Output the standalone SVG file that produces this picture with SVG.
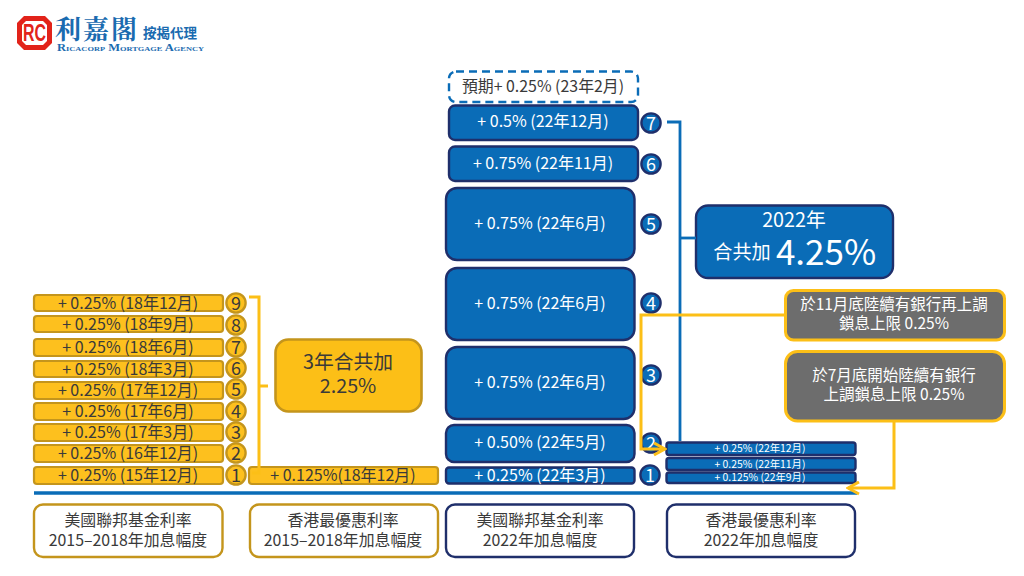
<svg xmlns="http://www.w3.org/2000/svg" width="1024" height="576" viewBox="0 0 1024 576">
<defs>
<style>
text{font-family:"Noto Sans CJK TC","Noto Sans",sans-serif;text-anchor:middle}
.y{fill:#fdc01e;stroke:#c4951c;stroke-width:2.2}
.b{fill:#0a6cb7;stroke:#1f2f6b;stroke-width:2.4}
.g{fill:#6d6d6d;stroke:#fcbf17;stroke-width:3}
.w{fill:#fff;stroke-width:2.4}
.yc{fill:#fdc01e;stroke:#c4951c;stroke-width:2.4}
.bc{fill:#0a6cb7;stroke:#1f2f6b;stroke-width:2.4}
.ty{fill:#3a3a3a;font-size:16px}
.tw{fill:#fff;font-size:16px}
.ts{fill:#fff;font-size:10.4px}
.ny{fill:#3a3a3a;font-size:18px}
.nb{fill:#fff;font-size:18px}
.tb{fill:#3a3a3a;font-size:15.9px}
.tg{fill:#fff;font-size:15.5px}
.cy{fill:none;stroke:#fcbf17;stroke-width:3}
.cb{fill:none;stroke:#0a6cb7;stroke-width:2.8}
</style>
<marker id="chev" markerUnits="userSpaceOnUse" markerWidth="15" markerHeight="15" refX="13" refY="7.5" orient="auto"><path d="M2 1.5L13 7.5L2 13.5" fill="none" stroke="#fcbf17" stroke-width="3"/></marker>
</defs>
<rect width="1024" height="576" fill="#fff"/>

<g id="logo">
<path d="M24 16H45L52 23V43L45 50H24L17 43V23Z" fill="#e2231a"/>
<path d="M26 21H43L47 25V41L43 45H26L22 41V25Z" fill="#fff"/>
<text x="34.500" y="41" textLength="23" lengthAdjust="spacingAndGlyphs" style="font-family:'Liberation Sans',sans-serif;font-size:24px;font-weight:bold;fill:#e2231a">RC</text>
<text x="97" y="39" style="font-family:'Noto Serif CJK TC','Noto Sans CJK TC',serif;font-size:26px;font-weight:bold;fill:#1a6bb0;letter-spacing:2px">利嘉閣</text>
<text x="170" y="38" style="font-size:13.5px;font-weight:bold;fill:#1a6bb0">按揭代理</text>
<text x="130.500" y="51" textLength="147" lengthAdjust="spacingAndGlyphs" style="font-family:'Liberation Serif',serif;font-size:10.500px;font-weight:bold;font-variant:small-caps;fill:#1a6bb0">Ricacorp Mortgage Agency</text>
</g>

<g id="us-2015-1"><rect class="y" x="34" y="467" width="189" height="17" rx="3"/><text class="ty" x="128" y="481">+ 0.25% (15年12月)</text><circle class="yc" cx="236" cy="475" r="9.600"/><text class="ny" x="236" y="481.500">1</text></g>
<g id="us-2015-2"><rect class="y" x="34" y="445" width="189" height="17" rx="3"/><text class="ty" x="128" y="459">+ 0.25% (16年12月)</text><circle class="yc" cx="236" cy="453" r="9.600"/><text class="ny" x="236" y="459.500">2</text></g>
<g id="us-2015-3"><rect class="y" x="34" y="424" width="189" height="17" rx="3"/><text class="ty" x="128" y="438">+ 0.25% (17年3月)</text><circle class="yc" cx="236" cy="432" r="9.600"/><text class="ny" x="236" y="438.500">3</text></g>
<g id="us-2015-4"><rect class="y" x="34" y="403" width="189" height="17" rx="3"/><text class="ty" x="128" y="416.500">+ 0.25% (17年6月)</text><circle class="yc" cx="236" cy="411" r="9.600"/><text class="ny" x="236" y="417.500">4</text></g>
<g id="us-2015-5"><rect class="y" x="34" y="382" width="189" height="17" rx="3"/><text class="ty" x="128" y="395.500">+ 0.25% (17年12月)</text><circle class="yc" cx="236" cy="389" r="9.600"/><text class="ny" x="236" y="395.500">5</text></g>
<g id="us-2015-6"><rect class="y" x="34" y="361" width="189" height="16" rx="3"/><text class="ty" x="128" y="374.500">+ 0.25% (18年3月)</text><circle class="yc" cx="236" cy="368" r="9.600"/><text class="ny" x="236" y="374.500">6</text></g>
<g id="us-2015-7"><rect class="y" x="34" y="339" width="189" height="17" rx="3"/><text class="ty" x="128" y="353">+ 0.25% (18年6月)</text><circle class="yc" cx="236" cy="347" r="9.600"/><text class="ny" x="236" y="353.500">7</text></g>
<g id="us-2015-8"><rect class="y" x="34" y="316" width="189" height="16" rx="3"/><text class="ty" x="128" y="329.500">+ 0.25% (18年9月)</text><circle class="yc" cx="236" cy="325" r="9.600"/><text class="ny" x="236" y="331.500">8</text></g>
<g id="us-2015-9"><rect class="y" x="34" y="295" width="189" height="16" rx="3"/><text class="ty" x="128" y="308.500">+ 0.25% (18年12月)</text><circle class="yc" cx="236" cy="303" r="9.600"/><text class="ny" x="236" y="309.500">9</text></g>

<g id="hk-2018"><rect class="y" x="249" y="467" width="189" height="17" rx="3"/><text class="ty" x="343" y="481">+ 0.125%(18年12月)</text></g>
<g id="total-2018"><rect x="275.500" y="339.500" width="146" height="72" rx="13" fill="#fcbf17" stroke="#c4951c" stroke-width="2.600"/><text x="348" y="369" style="fill:#3a3a3a;font-size:19.800px">3年合共加</text><text x="348" y="393" style="fill:#3a3a3a;font-size:19.800px">2.25%</text></g>

<g id="expected"><rect x="449" y="71.500" width="189" height="30.500" rx="7" fill="#fff" stroke="#0a6cb7" stroke-width="2.400" stroke-dasharray="8 5"/><text class="tb" x="543" y="91.500">預期+ 0.25% (23年2月)</text></g>
<g id="y22-7"><rect class="b" x="449" y="105.500" width="189" height="34.500" rx="6"/><text class="tw" x="543" y="127">+ 0.5% (22年12月)</text><circle class="bc" cx="651" cy="123" r="9.600"/><text class="nb" x="651" y="129.500">7</text></g>
<g id="y22-6"><rect class="b" x="449" y="146.500" width="189" height="34.500" rx="6"/><text class="tw" x="543" y="168.500">+ 0.75% (22年11月)</text><circle class="bc" cx="651" cy="164" r="9.600"/><text class="nb" x="651" y="170.500">6</text></g>
<g id="y22-5"><rect class="b" x="446" y="188" width="188.500" height="72" rx="11"/><text class="tw" x="540" y="229">+ 0.75% (22年6月)</text><circle class="bc" cx="651" cy="224" r="9.600"/><text class="nb" x="651" y="230.500">5</text></g>
<g id="y22-4"><rect class="b" x="446" y="268" width="188.500" height="72" rx="11"/><text class="tw" x="540" y="308.500">+ 0.75% (22年6月)</text><circle class="bc" cx="651" cy="303" r="9.600"/><text class="nb" x="651" y="309.500">4</text></g>
<g id="y22-3"><rect class="b" x="446" y="347" width="188.500" height="72" rx="11"/><text class="tw" x="540" y="387.500">+ 0.75% (22年6月)</text><circle class="bc" cx="651" cy="375" r="9.600"/><text class="nb" x="651" y="381.500">3</text></g>
<g id="y22-2"><rect class="b" x="446" y="425" width="188.500" height="37" rx="8"/><text class="tw" x="540" y="447.500">+ 0.50% (22年5月)</text><circle class="bc" cx="651" cy="443" r="9.600"/><text class="nb" x="651" y="449.500">2</text></g>
<g id="y22-1"><rect class="b" x="446" y="467.500" width="188.500" height="16" rx="3"/><text class="tw" x="540" y="480.500">+ 0.25% (22年3月)</text><circle class="bc" cx="650" cy="475" r="9.600"/><text class="nb" x="650" y="481.500">1</text></g>

<g id="total-2022"><rect class="b" x="696" y="205.500" width="197" height="72.500" rx="12"/><text x="794" y="227" style="fill:#fff;font-size:19.800px">2022年</text><text x="742" y="259" style="fill:#fff;font-size:19.200px">合共加</text><text x="826" y="265" style="fill:#fff;font-size:35px">4.25%</text></g>

<g id="note-nov"><rect class="g" x="785.500" y="290.500" width="219" height="49.500" rx="8"/><text class="tg" x="894" y="310">於11月底陸續有銀行再上調</text><text class="tg" x="894" y="329">鎖息上限 0.25%</text></g>
<g id="note-jul"><rect class="g" x="785.500" y="351.500" width="219" height="69.500" rx="12"/><text class="tg" x="894" y="381">於7月底開始陸續有銀行</text><text class="tg" x="894" y="400">上調鎖息上限 0.25%</text></g>

<g id="hk22-3"><rect class="b" x="666.500" y="442.500" width="189" height="12.500" rx="2.500"/><text class="ts" x="760" y="452">+ 0.25% (22年12月)</text></g>
<g id="hk22-2"><rect class="b" x="666.500" y="458" width="189" height="12" rx="2.500"/><text class="ts" x="760" y="467.500">+ 0.25% (22年11月)</text></g>
<g id="hk22-1"><rect class="b" x="666.500" y="472.500" width="189" height="10.500" rx="2.500"/><text class="ts" x="760" y="481">+ 0.125% (22年9月)</text></g>

<g id="label-us-2015"><rect class="w" x="34" y="504.500" width="188.500" height="52.500" rx="9" stroke="#c4951c"/><text class="tb" x="128" y="526">美國聯邦基金利率</text><text class="tb" x="128" y="545.500">2015–2018年加息幅度</text></g>
<g id="label-hk-2015"><rect class="w" x="250" y="504.500" width="188" height="52.500" rx="9" stroke="#c4951c"/><text class="tb" x="343" y="526">香港最優惠利率</text><text class="tb" x="343" y="545.500">2015–2018年加息幅度</text></g>
<g id="label-us-2022"><rect class="w" x="446" y="504.500" width="188" height="52.500" rx="9" stroke="#1f2f6b"/><text class="tb" x="540" y="526">美國聯邦基金利率</text><text class="tb" x="540" y="545.500">2022年加息幅度</text></g>
<g id="label-hk-2022"><rect class="w" x="667" y="504.500" width="188" height="52.500" rx="9" stroke="#1f2f6b"/><text class="tb" x="761" y="526">香港最優惠利率</text><text class="tb" x="761" y="545.500">2022年加息幅度</text></g>

<g id="connectors">
<path class="cy" d="M249 297H259V473H252"/>
<path class="cy" d="M259 386H268"/>
<path class="cb" d="M667 122H680V441"/>
<path class="cb" d="M680 238H696"/>
<path d="M34 493H857" fill="none" stroke="#0a6cb7" stroke-width="3.600"/>
<path class="cy" d="M785 315H641V449H665" marker-end="url(#chev)"/>
<path class="cy" d="M894 421V488H848" marker-end="url(#chev)"/>
</g>
</svg>
